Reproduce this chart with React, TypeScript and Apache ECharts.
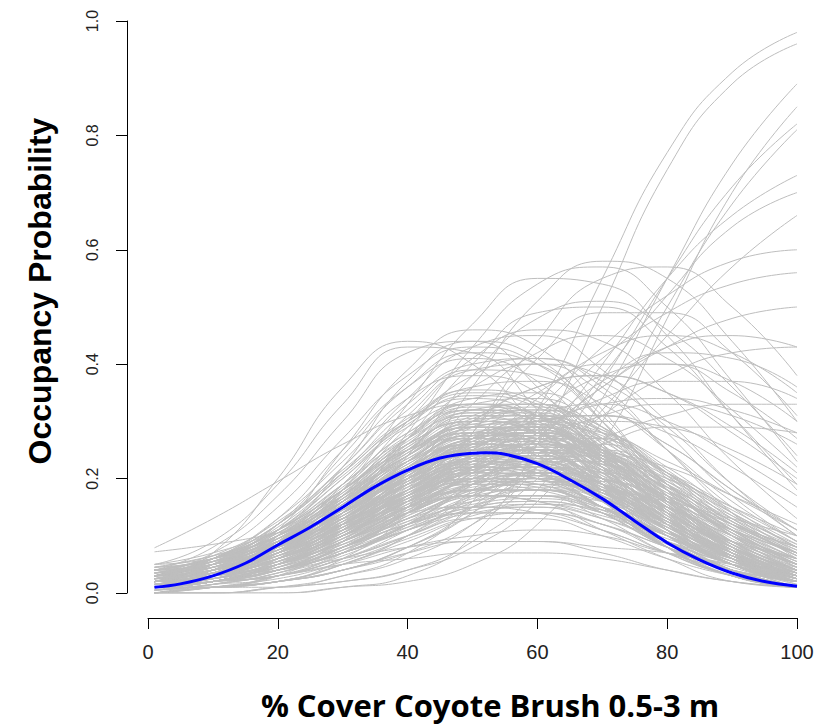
import React, { useEffect, useRef } from "react";
import * as echarts from "echarts";

// Cover values at which every posterior draw is evaluated
const xCover = [1, 10, 20, 30, 40, 50, 60, 70, 80, 90, 100];

// Posterior draws of occupancy probability (one row per draw, values at xCover)
const posteriorCurves: number[][] = [
  [0.02, 0.04, 0.08, 0.14, 0.2, 0.23, 0.22, 0.17, 0.1, 0.05, 0.02],
  [0.01, 0.02, 0.05, 0.1, 0.17, 0.22, 0.23, 0.19, 0.12, 0.06, 0.03],
  [0.03, 0.05, 0.09, 0.15, 0.22, 0.26, 0.25, 0.19, 0.11, 0.05, 0.02],
  [0.02, 0.03, 0.06, 0.1, 0.15, 0.18, 0.18, 0.15, 0.1, 0.06, 0.03],
  [0.04, 0.06, 0.1, 0.16, 0.22, 0.27, 0.28, 0.25, 0.19, 0.12, 0.07],
  [0.01, 0.02, 0.04, 0.08, 0.13, 0.17, 0.17, 0.13, 0.07, 0.03, 0.01],
  [0.02, 0.04, 0.08, 0.13, 0.19, 0.22, 0.2, 0.15, 0.08, 0.04, 0.01],
  [0.03, 0.05, 0.1, 0.18, 0.26, 0.3, 0.28, 0.21, 0.12, 0.05, 0.02],
  [0.01, 0.03, 0.06, 0.12, 0.2, 0.27, 0.29, 0.25, 0.17, 0.09, 0.04],
  [0.02, 0.03, 0.05, 0.09, 0.13, 0.16, 0.17, 0.16, 0.13, 0.09, 0.06],
  [0.04, 0.05, 0.08, 0.12, 0.15, 0.17, 0.16, 0.13, 0.09, 0.06, 0.03],
  [0.02, 0.04, 0.09, 0.17, 0.26, 0.32, 0.31, 0.24, 0.14, 0.06, 0.02],
  [0.01, 0.02, 0.05, 0.11, 0.19, 0.25, 0.25, 0.19, 0.1, 0.04, 0.01],
  [0.03, 0.04, 0.07, 0.11, 0.16, 0.2, 0.22, 0.21, 0.17, 0.12, 0.08],
  [0.02, 0.04, 0.07, 0.12, 0.17, 0.2, 0.19, 0.15, 0.09, 0.05, 0.02],
  [0.05, 0.07, 0.11, 0.17, 0.23, 0.26, 0.24, 0.18, 0.11, 0.05, 0.02],
  [0.01, 0.02, 0.04, 0.07, 0.11, 0.14, 0.15, 0.13, 0.09, 0.05, 0.02],
  [0.03, 0.06, 0.12, 0.21, 0.3, 0.34, 0.31, 0.22, 0.12, 0.05, 0.02],
  [0.02, 0.03, 0.06, 0.1, 0.15, 0.19, 0.21, 0.2, 0.16, 0.11, 0.07],
  [0.01, 0.02, 0.03, 0.06, 0.1, 0.13, 0.13, 0.1, 0.06, 0.03, 0.01],
  [0.02, 0.04, 0.08, 0.15, 0.23, 0.28, 0.27, 0.2, 0.11, 0.05, 0.01],
  [0.04, 0.06, 0.09, 0.14, 0.19, 0.22, 0.22, 0.19, 0.14, 0.09, 0.05],
  [0.01, 0.03, 0.07, 0.13, 0.21, 0.25, 0.23, 0.16, 0.08, 0.03, 0.01],
  [0.03, 0.05, 0.08, 0.13, 0.18, 0.22, 0.23, 0.21, 0.17, 0.12, 0.08],
  [0.02, 0.03, 0.05, 0.08, 0.12, 0.15, 0.16, 0.14, 0.1, 0.06, 0.03],
  [0.01, 0.02, 0.05, 0.1, 0.17, 0.23, 0.26, 0.24, 0.18, 0.11, 0.05],
  [0.03, 0.05, 0.1, 0.17, 0.25, 0.29, 0.26, 0.18, 0.09, 0.04, 0.01],
  [0.02, 0.03, 0.06, 0.11, 0.17, 0.21, 0.21, 0.17, 0.11, 0.05, 0.02],
  [0.05, 0.06, 0.09, 0.12, 0.15, 0.17, 0.17, 0.15, 0.12, 0.09, 0.06],
  [0.01, 0.01, 0.03, 0.06, 0.11, 0.17, 0.21, 0.21, 0.17, 0.11, 0.06],
  [0.02, 0.04, 0.09, 0.16, 0.24, 0.3, 0.31, 0.27, 0.19, 0.11, 0.05],
  [0.03, 0.04, 0.07, 0.11, 0.16, 0.19, 0.18, 0.14, 0.08, 0.04, 0.01],
  [0.01, 0.02, 0.04, 0.09, 0.15, 0.2, 0.2, 0.15, 0.08, 0.03, 0.01],
  [0.02, 0.05, 0.11, 0.2, 0.29, 0.33, 0.29, 0.19, 0.09, 0.03, 0.01],
  [0.04, 0.05, 0.08, 0.11, 0.14, 0.15, 0.14, 0.11, 0.07, 0.04, 0.02],
  [0.02, 0.03, 0.05, 0.09, 0.14, 0.19, 0.23, 0.24, 0.22, 0.17, 0.12],
  [0.01, 0.02, 0.05, 0.09, 0.14, 0.17, 0.16, 0.11, 0.06, 0.02, 0.01],
  [0.03, 0.06, 0.11, 0.18, 0.25, 0.27, 0.24, 0.16, 0.08, 0.03, 0.01],
  [0.02, 0.03, 0.06, 0.1, 0.16, 0.22, 0.25, 0.25, 0.21, 0.15, 0.09],
  [0.01, 0.03, 0.07, 0.15, 0.25, 0.32, 0.33, 0.27, 0.17, 0.08, 0.03],
  [0.01, 0.02, 0.03, 0.05, 0.06, 0.07, 0.07, 0.06, 0.04, 0.02, 0.01],
  [0.0, 0.01, 0.02, 0.04, 0.07, 0.09, 0.09, 0.07, 0.04, 0.02, 0.01],
  [0.02, 0.03, 0.04, 0.06, 0.08, 0.09, 0.09, 0.08, 0.07, 0.05, 0.04],
  [0.01, 0.01, 0.03, 0.05, 0.08, 0.1, 0.11, 0.1, 0.07, 0.05, 0.02],
  [0.0, 0.01, 0.02, 0.05, 0.09, 0.13, 0.14, 0.12, 0.07, 0.03, 0.01],
  [0.03, 0.07, 0.15, 0.27, 0.38, 0.43, 0.4, 0.3, 0.17, 0.08, 0.03],
  [0.02, 0.05, 0.12, 0.24, 0.36, 0.42, 0.4, 0.31, 0.19, 0.1, 0.04],
  [0.01, 0.03, 0.1, 0.22, 0.37, 0.44, 0.41, 0.3, 0.16, 0.06, 0.02],
  [0.04, 0.08, 0.17, 0.3, 0.42, 0.44, 0.36, 0.23, 0.11, 0.04, 0.01],
  [0.02, 0.04, 0.09, 0.19, 0.31, 0.39, 0.4, 0.35, 0.25, 0.15, 0.08],
  [0.03, 0.06, 0.13, 0.23, 0.34, 0.38, 0.35, 0.25, 0.14, 0.06, 0.02],
  [0.01, 0.04, 0.11, 0.25, 0.39, 0.46, 0.43, 0.32, 0.18, 0.07, 0.02],
  [0.02, 0.05, 0.12, 0.22, 0.33, 0.4, 0.41, 0.37, 0.29, 0.19, 0.11],
  [0.05, 0.09, 0.19, 0.33, 0.43, 0.42, 0.32, 0.19, 0.08, 0.03, 0.01],
  [0.03, 0.05, 0.11, 0.2, 0.3, 0.36, 0.37, 0.33, 0.25, 0.16, 0.09],
  [0.02, 0.04, 0.08, 0.16, 0.27, 0.36, 0.4, 0.38, 0.3, 0.19, 0.1],
  [0.079, 0.13, 0.195, 0.26, 0.31, 0.33, 0.31, 0.25, 0.17, 0.1, 0.05],
  [0.072, 0.085, 0.105, 0.13, 0.16, 0.18, 0.19, 0.18, 0.16, 0.13, 0.1],
  [0.02, 0.07, 0.2, 0.36, 0.44, 0.4, 0.29, 0.17, 0.08, 0.03, 0.01],
  [0.01, 0.02, 0.06, 0.14, 0.28, 0.43, 0.54, 0.57, 0.5, 0.37, 0.23],
  [0.0, 0.01, 0.03, 0.09, 0.2, 0.36, 0.51, 0.58, 0.55, 0.44, 0.3],
  [0.01, 0.03, 0.08, 0.18, 0.33, 0.47, 0.55, 0.54, 0.45, 0.31, 0.18],
  [0.0, 0.01, 0.02, 0.06, 0.14, 0.28, 0.44, 0.55, 0.57, 0.5, 0.38],
  [0.01, 0.02, 0.05, 0.12, 0.24, 0.38, 0.48, 0.51, 0.46, 0.36, 0.24],
  [0.02, 0.03, 0.07, 0.15, 0.27, 0.4, 0.49, 0.5, 0.43, 0.31, 0.19],
  [0.0, 0.01, 0.03, 0.07, 0.15, 0.28, 0.41, 0.49, 0.49, 0.42, 0.31],
  [0.0, 0.0, 0.01, 0.03, 0.07, 0.16, 0.32, 0.55, 0.77, 0.91, 0.98],
  [0.0, 0.0, 0.0, 0.01, 0.03, 0.1, 0.26, 0.5, 0.74, 0.89, 0.96],
  [0.0, 0.0, 0.01, 0.02, 0.04, 0.09, 0.18, 0.34, 0.55, 0.75, 0.89],
  [0.0, 0.0, 0.0, 0.01, 0.02, 0.05, 0.12, 0.26, 0.48, 0.7, 0.85],
  [0.0, 0.01, 0.01, 0.03, 0.06, 0.12, 0.22, 0.37, 0.55, 0.71, 0.82],
  [0.0, 0.0, 0.01, 0.02, 0.04, 0.08, 0.16, 0.3, 0.5, 0.68, 0.81],
  [0.01, 0.01, 0.02, 0.04, 0.08, 0.15, 0.26, 0.4, 0.55, 0.66, 0.73],
  [0.0, 0.01, 0.02, 0.04, 0.08, 0.14, 0.24, 0.38, 0.52, 0.64, 0.7],
  [0.01, 0.01, 0.02, 0.04, 0.07, 0.12, 0.2, 0.32, 0.45, 0.57, 0.66],
  [0.01, 0.02, 0.04, 0.08, 0.14, 0.22, 0.32, 0.43, 0.52, 0.58, 0.6],
  [0.01, 0.02, 0.03, 0.07, 0.12, 0.2, 0.3, 0.41, 0.49, 0.54, 0.56],
  [0.01, 0.02, 0.04, 0.07, 0.12, 0.19, 0.27, 0.36, 0.43, 0.48, 0.5],
  [0.01, 0.02, 0.04, 0.08, 0.14, 0.22, 0.31, 0.38, 0.4, 0.37, 0.3],
  [0.02, 0.03, 0.05, 0.09, 0.14, 0.21, 0.28, 0.34, 0.37, 0.37, 0.34],
  [0.0, 0.01, 0.02, 0.05, 0.1, 0.17, 0.27, 0.36, 0.43, 0.45, 0.43],
  [0.01, 0.02, 0.04, 0.08, 0.15, 0.24, 0.34, 0.42, 0.45, 0.42, 0.35],
  [0.01, 0.02, 0.04, 0.07, 0.11, 0.16, 0.22, 0.27, 0.31, 0.33, 0.33],
  [0.0, 0.01, 0.02, 0.04, 0.08, 0.14, 0.22, 0.31, 0.38, 0.42, 0.43],
  [0.02, 0.03, 0.06, 0.11, 0.18, 0.27, 0.35, 0.4, 0.4, 0.35, 0.27],
  [0.01, 0.02, 0.03, 0.06, 0.1, 0.15, 0.21, 0.26, 0.29, 0.29, 0.28],
  [0.02, 0.04, 0.08, 0.14, 0.22, 0.3, 0.36, 0.38, 0.35, 0.29, 0.21],
  [0.01, 0.02, 0.04, 0.07, 0.12, 0.19, 0.26, 0.31, 0.33, 0.31, 0.26],
  [0.01, 0.03, 0.07, 0.13, 0.2, 0.25, 0.26, 0.22, 0.15, 0.08, 0.03],
  [0.02, 0.03, 0.06, 0.12, 0.19, 0.24, 0.24, 0.19, 0.12, 0.06, 0.02],
  [0.03, 0.05, 0.09, 0.15, 0.21, 0.24, 0.23, 0.18, 0.12, 0.07, 0.03],
  [0.01, 0.02, 0.05, 0.1, 0.16, 0.21, 0.22, 0.18, 0.12, 0.06, 0.02],
  [0.02, 0.04, 0.08, 0.14, 0.22, 0.28, 0.29, 0.24, 0.16, 0.08, 0.03],
  [0.04, 0.06, 0.1, 0.15, 0.2, 0.23, 0.21, 0.16, 0.09, 0.04, 0.01],
  [0.01, 0.02, 0.05, 0.09, 0.15, 0.19, 0.19, 0.15, 0.09, 0.04, 0.01],
  [0.02, 0.04, 0.08, 0.15, 0.23, 0.29, 0.3, 0.25, 0.17, 0.09, 0.04],
  [0.03, 0.04, 0.07, 0.12, 0.18, 0.23, 0.25, 0.23, 0.18, 0.12, 0.07],
  [0.01, 0.03, 0.06, 0.12, 0.19, 0.23, 0.21, 0.15, 0.08, 0.03, 0.01],
  [0.02, 0.03, 0.06, 0.11, 0.18, 0.24, 0.26, 0.23, 0.16, 0.09, 0.04],
  [0.03, 0.05, 0.09, 0.16, 0.24, 0.28, 0.27, 0.21, 0.13, 0.06, 0.02],
  [0.01, 0.02, 0.04, 0.08, 0.13, 0.18, 0.2, 0.18, 0.13, 0.08, 0.04],
  [0.02, 0.04, 0.07, 0.13, 0.2, 0.26, 0.27, 0.23, 0.15, 0.08, 0.03],
  [0.04, 0.06, 0.1, 0.17, 0.25, 0.31, 0.31, 0.25, 0.16, 0.08, 0.03],
  [0.01, 0.02, 0.04, 0.08, 0.14, 0.21, 0.25, 0.24, 0.18, 0.11, 0.05],
  [0.02, 0.03, 0.06, 0.1, 0.16, 0.2, 0.21, 0.18, 0.12, 0.07, 0.03],
  [0.03, 0.05, 0.1, 0.18, 0.27, 0.33, 0.33, 0.26, 0.16, 0.07, 0.02],
  [0.01, 0.02, 0.05, 0.09, 0.14, 0.18, 0.18, 0.14, 0.08, 0.04, 0.01],
  [0.02, 0.04, 0.09, 0.17, 0.27, 0.34, 0.35, 0.29, 0.19, 0.1, 0.04],
  [0.03, 0.05, 0.08, 0.13, 0.19, 0.24, 0.26, 0.25, 0.2, 0.14, 0.08],
  [0.01, 0.02, 0.04, 0.07, 0.12, 0.16, 0.18, 0.16, 0.11, 0.06, 0.03],
  [0.02, 0.04, 0.08, 0.14, 0.21, 0.26, 0.25, 0.19, 0.11, 0.05, 0.02],
  [0.04, 0.05, 0.08, 0.12, 0.17, 0.21, 0.22, 0.2, 0.15, 0.1, 0.06],
  [0.01, 0.03, 0.06, 0.11, 0.18, 0.23, 0.24, 0.2, 0.13, 0.07, 0.03],
  [0.02, 0.03, 0.05, 0.1, 0.17, 0.24, 0.28, 0.27, 0.21, 0.13, 0.07],
  [0.03, 0.06, 0.12, 0.21, 0.3, 0.35, 0.33, 0.25, 0.14, 0.06, 0.02],
  [0.01, 0.02, 0.04, 0.07, 0.11, 0.15, 0.16, 0.14, 0.1, 0.05, 0.02],
  [0.02, 0.05, 0.1, 0.18, 0.26, 0.3, 0.28, 0.2, 0.11, 0.05, 0.01],
  [0.03, 0.04, 0.07, 0.11, 0.16, 0.2, 0.2, 0.17, 0.12, 0.07, 0.04],
  [0.01, 0.03, 0.07, 0.14, 0.23, 0.3, 0.32, 0.28, 0.19, 0.1, 0.04],
  [0.02, 0.03, 0.05, 0.08, 0.12, 0.14, 0.14, 0.11, 0.07, 0.04, 0.02],
  [0.03, 0.05, 0.09, 0.16, 0.23, 0.27, 0.25, 0.18, 0.1, 0.04, 0.01],
  [0.01, 0.02, 0.05, 0.1, 0.17, 0.24, 0.27, 0.25, 0.18, 0.1, 0.05],
  [0.02, 0.04, 0.07, 0.12, 0.17, 0.2, 0.19, 0.14, 0.08, 0.04, 0.01],
  [0.04, 0.06, 0.11, 0.19, 0.28, 0.32, 0.3, 0.22, 0.13, 0.06, 0.02],
  [0.01, 0.02, 0.04, 0.09, 0.16, 0.24, 0.3, 0.31, 0.26, 0.18, 0.1],
  [0.02, 0.04, 0.08, 0.14, 0.21, 0.25, 0.23, 0.16, 0.09, 0.04, 0.01],
  [0.03, 0.04, 0.06, 0.1, 0.14, 0.18, 0.19, 0.18, 0.15, 0.11, 0.07],
  [0.01, 0.03, 0.07, 0.13, 0.21, 0.27, 0.28, 0.23, 0.14, 0.07, 0.02],
  [0.02, 0.04, 0.09, 0.18, 0.3, 0.41, 0.46, 0.44, 0.35, 0.23, 0.13],
  [0.01, 0.02, 0.05, 0.11, 0.21, 0.33, 0.42, 0.45, 0.41, 0.32, 0.22],
  [0.03, 0.06, 0.12, 0.22, 0.34, 0.43, 0.45, 0.39, 0.28, 0.17, 0.09],
  [0.01, 0.03, 0.06, 0.12, 0.21, 0.3, 0.36, 0.38, 0.35, 0.28, 0.2],
  [0.0, 0.01, 0.02, 0.05, 0.1, 0.18, 0.28, 0.37, 0.42, 0.41, 0.36],
  [0.02, 0.03, 0.06, 0.1, 0.16, 0.23, 0.29, 0.33, 0.34, 0.32, 0.28],
  [0.02, 0.04, 0.08, 0.14, 0.21, 0.27, 0.28, 0.24, 0.16, 0.09, 0.04],
  [0.01, 0.02, 0.05, 0.09, 0.15, 0.2, 0.22, 0.2, 0.15, 0.09, 0.05],
  [0.03, 0.05, 0.09, 0.16, 0.24, 0.29, 0.29, 0.23, 0.15, 0.08, 0.03],
  [0.02, 0.03, 0.06, 0.11, 0.18, 0.23, 0.23, 0.18, 0.11, 0.05, 0.02],
  [0.01, 0.02, 0.04, 0.08, 0.13, 0.18, 0.21, 0.2, 0.16, 0.11, 0.06],
  [0.03, 0.05, 0.08, 0.14, 0.2, 0.24, 0.24, 0.2, 0.13, 0.07, 0.03],
  [0.02, 0.04, 0.09, 0.17, 0.25, 0.3, 0.29, 0.22, 0.13, 0.06, 0.02],
  [0.01, 0.02, 0.04, 0.08, 0.13, 0.17, 0.18, 0.15, 0.1, 0.05, 0.02],
  [0.04, 0.06, 0.1, 0.16, 0.23, 0.27, 0.26, 0.21, 0.14, 0.08, 0.04],
  [0.02, 0.03, 0.07, 0.12, 0.2, 0.26, 0.28, 0.25, 0.18, 0.1, 0.05],
  [0.01, 0.03, 0.06, 0.12, 0.19, 0.24, 0.24, 0.19, 0.11, 0.05, 0.02],
  [0.03, 0.04, 0.07, 0.12, 0.18, 0.22, 0.21, 0.16, 0.1, 0.05, 0.02],
  [0.02, 0.04, 0.08, 0.15, 0.24, 0.31, 0.33, 0.29, 0.21, 0.12, 0.06],
  [0.01, 0.02, 0.04, 0.09, 0.15, 0.22, 0.26, 0.26, 0.21, 0.14, 0.08],
  [0.03, 0.05, 0.1, 0.18, 0.27, 0.32, 0.3, 0.22, 0.12, 0.05, 0.02],
  [0.02, 0.03, 0.05, 0.09, 0.14, 0.17, 0.17, 0.14, 0.09, 0.05, 0.02],
  [0.01, 0.02, 0.05, 0.11, 0.19, 0.26, 0.28, 0.24, 0.16, 0.08, 0.03],
  [0.04, 0.05, 0.08, 0.13, 0.19, 0.24, 0.26, 0.24, 0.19, 0.13, 0.08],
  [0.02, 0.04, 0.07, 0.13, 0.19, 0.22, 0.21, 0.16, 0.1, 0.05, 0.02],
  [0.01, 0.03, 0.07, 0.14, 0.22, 0.28, 0.29, 0.24, 0.15, 0.07, 0.03],
  [0.03, 0.05, 0.09, 0.15, 0.22, 0.27, 0.28, 0.25, 0.19, 0.12, 0.07],
  [0.02, 0.03, 0.06, 0.1, 0.15, 0.18, 0.18, 0.15, 0.1, 0.06, 0.03],
  [0.01, 0.02, 0.05, 0.1, 0.18, 0.25, 0.29, 0.28, 0.22, 0.14, 0.07],
  [0.03, 0.06, 0.11, 0.19, 0.27, 0.31, 0.28, 0.2, 0.11, 0.05, 0.02],
  [0.02, 0.04, 0.08, 0.14, 0.2, 0.24, 0.23, 0.18, 0.11, 0.06, 0.02],
  [0.01, 0.02, 0.03, 0.06, 0.1, 0.15, 0.18, 0.18, 0.15, 0.1, 0.06],
  [0.04, 0.06, 0.1, 0.17, 0.24, 0.29, 0.29, 0.24, 0.16, 0.09, 0.04],
  [0.02, 0.03, 0.06, 0.11, 0.17, 0.21, 0.2, 0.15, 0.09, 0.04, 0.01],
  [0.01, 0.03, 0.06, 0.12, 0.2, 0.27, 0.3, 0.27, 0.19, 0.11, 0.05],
  [0.03, 0.05, 0.09, 0.14, 0.2, 0.23, 0.22, 0.17, 0.11, 0.06, 0.03],
  [0.02, 0.04, 0.09, 0.16, 0.25, 0.31, 0.31, 0.25, 0.16, 0.08, 0.03],
  [0.01, 0.02, 0.04, 0.07, 0.12, 0.17, 0.2, 0.19, 0.15, 0.1, 0.05],
  [0.03, 0.05, 0.08, 0.14, 0.21, 0.26, 0.27, 0.23, 0.16, 0.09, 0.04],
  [0.02, 0.04, 0.07, 0.12, 0.18, 0.21, 0.2, 0.15, 0.08, 0.04, 0.01],
  [0.01, 0.02, 0.05, 0.1, 0.16, 0.22, 0.24, 0.22, 0.16, 0.09, 0.04],
  [0.04, 0.06, 0.11, 0.18, 0.26, 0.3, 0.28, 0.2, 0.12, 0.05, 0.02],
  [0.02, 0.03, 0.06, 0.12, 0.2, 0.27, 0.3, 0.28, 0.21, 0.13, 0.07],
  [0.01, 0.02, 0.04, 0.08, 0.12, 0.15, 0.15, 0.12, 0.08, 0.04, 0.02],
  [0.03, 0.05, 0.09, 0.16, 0.24, 0.29, 0.28, 0.22, 0.13, 0.06, 0.02],
  [0.02, 0.04, 0.07, 0.13, 0.2, 0.25, 0.26, 0.22, 0.15, 0.08, 0.04],
  [0.01, 0.03, 0.06, 0.11, 0.17, 0.22, 0.23, 0.19, 0.13, 0.07, 0.03],
  [0.03, 0.04, 0.07, 0.12, 0.18, 0.24, 0.27, 0.27, 0.23, 0.17, 0.11],
  [0.02, 0.05, 0.1, 0.19, 0.28, 0.33, 0.31, 0.23, 0.13, 0.06, 0.02],
  [0.01, 0.02, 0.05, 0.09, 0.15, 0.19, 0.2, 0.16, 0.1, 0.05, 0.02],
  [0.03, 0.05, 0.08, 0.13, 0.19, 0.23, 0.23, 0.19, 0.13, 0.07, 0.03],
  [0.02, 0.03, 0.06, 0.12, 0.21, 0.29, 0.32, 0.29, 0.2, 0.11, 0.05],
  [0.01, 0.02, 0.04, 0.07, 0.11, 0.14, 0.14, 0.12, 0.08, 0.04, 0.02],
  [0.04, 0.06, 0.09, 0.15, 0.21, 0.25, 0.25, 0.21, 0.14, 0.08, 0.04],
  [0.02, 0.04, 0.08, 0.15, 0.23, 0.28, 0.27, 0.21, 0.12, 0.05, 0.02],
  [0.01, 0.02, 0.05, 0.1, 0.17, 0.23, 0.25, 0.21, 0.14, 0.07, 0.03],
  [0.03, 0.06, 0.11, 0.18, 0.25, 0.28, 0.26, 0.19, 0.11, 0.05, 0.02],
  [0.02, 0.03, 0.05, 0.09, 0.15, 0.2, 0.23, 0.23, 0.2, 0.15, 0.1],
  [0.01, 0.03, 0.07, 0.13, 0.21, 0.26, 0.26, 0.2, 0.12, 0.05, 0.02],
  [0.03, 0.04, 0.07, 0.11, 0.17, 0.21, 0.22, 0.19, 0.14, 0.08, 0.04],
  [0.02, 0.04, 0.08, 0.16, 0.26, 0.33, 0.34, 0.28, 0.18, 0.09, 0.03],
  [0.01, 0.02, 0.04, 0.08, 0.14, 0.19, 0.21, 0.19, 0.14, 0.08, 0.04],
  [0.04, 0.06, 0.1, 0.16, 0.22, 0.26, 0.25, 0.19, 0.12, 0.06, 0.02],
  [0.02, 0.03, 0.06, 0.1, 0.16, 0.21, 0.22, 0.19, 0.13, 0.07, 0.03],
  [0.01, 0.03, 0.07, 0.14, 0.23, 0.29, 0.3, 0.25, 0.16, 0.08, 0.03],
  [0.03, 0.05, 0.09, 0.15, 0.22, 0.26, 0.25, 0.2, 0.13, 0.07, 0.03],
  [0.01, 0.02, 0.05, 0.1, 0.17, 0.25, 0.31, 0.33, 0.3, 0.24, 0.17],
  [0.02, 0.03, 0.06, 0.11, 0.18, 0.25, 0.3, 0.31, 0.28, 0.22, 0.15],
  [0.01, 0.02, 0.04, 0.08, 0.14, 0.21, 0.27, 0.3, 0.29, 0.25, 0.19],
  [0.02, 0.04, 0.07, 0.12, 0.19, 0.26, 0.31, 0.31, 0.26, 0.18, 0.11],
  [0.02, 0.05, 0.11, 0.21, 0.32, 0.39, 0.38, 0.3, 0.18, 0.08, 0.03],
  [0.03, 0.06, 0.13, 0.25, 0.36, 0.41, 0.37, 0.26, 0.14, 0.06, 0.02],
  [0.01, 0.03, 0.08, 0.17, 0.29, 0.38, 0.41, 0.36, 0.25, 0.14, 0.06],
  [0.015, 0.035, 0.075, 0.135, 0.205, 0.255, 0.265, 0.225, 0.155, 0.085, 0.035],
  [0.025, 0.045, 0.085, 0.145, 0.215, 0.265, 0.265, 0.215, 0.135, 0.065, 0.025],
  [0.015, 0.025, 0.055, 0.105, 0.175, 0.235, 0.255, 0.235, 0.175, 0.105, 0.055],
  [0.035, 0.055, 0.095, 0.155, 0.225, 0.275, 0.275, 0.225, 0.145, 0.075, 0.025],
  [0.005, 0.015, 0.035, 0.075, 0.135, 0.195, 0.225, 0.215, 0.165, 0.105, 0.055],
  [0.025, 0.035, 0.065, 0.115, 0.175, 0.215, 0.215, 0.175, 0.115, 0.065, 0.025],
  [0.015, 0.035, 0.085, 0.165, 0.255, 0.315, 0.315, 0.255, 0.165, 0.085, 0.035],
  [0.045, 0.065, 0.095, 0.145, 0.195, 0.225, 0.215, 0.175, 0.115, 0.065, 0.035],
  [0.025, 0.045, 0.075, 0.125, 0.185, 0.235, 0.255, 0.245, 0.195, 0.135, 0.085],
  [0.015, 0.025, 0.045, 0.085, 0.145, 0.205, 0.235, 0.225, 0.175, 0.105, 0.045],
  [0.035, 0.045, 0.075, 0.125, 0.195, 0.255, 0.275, 0.255, 0.195, 0.125, 0.065],
  [0.005, 0.015, 0.035, 0.065, 0.115, 0.165, 0.185, 0.165, 0.115, 0.065, 0.025],
  [0.025, 0.055, 0.105, 0.185, 0.275, 0.325, 0.315, 0.245, 0.145, 0.065, 0.025],
  [0.015, 0.035, 0.065, 0.115, 0.165, 0.195, 0.185, 0.145, 0.085, 0.045, 0.015],
  [0.035, 0.055, 0.085, 0.135, 0.185, 0.215, 0.205, 0.165, 0.105, 0.055, 0.025],
  [0.025, 0.035, 0.055, 0.095, 0.155, 0.215, 0.245, 0.245, 0.205, 0.145, 0.085],
  [0.015, 0.025, 0.065, 0.125, 0.205, 0.265, 0.285, 0.245, 0.165, 0.085, 0.035],
  [0.045, 0.055, 0.085, 0.125, 0.175, 0.205, 0.205, 0.175, 0.125, 0.075, 0.045],
  [0.005, 0.015, 0.045, 0.095, 0.165, 0.225, 0.245, 0.215, 0.145, 0.075, 0.025],
  [0.025, 0.045, 0.095, 0.165, 0.245, 0.295, 0.295, 0.235, 0.155, 0.075, 0.025],
  [0.015, 0.025, 0.045, 0.075, 0.115, 0.145, 0.155, 0.135, 0.095, 0.055, 0.025],
  [0.035, 0.055, 0.105, 0.175, 0.255, 0.305, 0.295, 0.235, 0.145, 0.075, 0.025],
  [0.025, 0.035, 0.065, 0.105, 0.165, 0.215, 0.235, 0.225, 0.185, 0.125, 0.075],
  [0.015, 0.035, 0.075, 0.145, 0.225, 0.275, 0.275, 0.215, 0.135, 0.065, 0.025],
  [0.005, 0.015, 0.025, 0.055, 0.095, 0.135, 0.155, 0.145, 0.105, 0.065, 0.035],
  [0.025, 0.045, 0.085, 0.155, 0.235, 0.285, 0.285, 0.235, 0.165, 0.095, 0.045],
  [0.035, 0.045, 0.065, 0.105, 0.155, 0.195, 0.205, 0.185, 0.135, 0.085, 0.045],
  [0.015, 0.025, 0.055, 0.115, 0.195, 0.265, 0.295, 0.275, 0.205, 0.125, 0.065],
  [0.025, 0.045, 0.095, 0.175, 0.265, 0.315, 0.305, 0.235, 0.135, 0.065, 0.025],
  [0.015, 0.035, 0.065, 0.115, 0.175, 0.225, 0.235, 0.205, 0.145, 0.085, 0.035],
  [0.045, 0.065, 0.105, 0.165, 0.235, 0.275, 0.265, 0.205, 0.125, 0.065, 0.025],
  [0.005, 0.015, 0.035, 0.075, 0.125, 0.175, 0.195, 0.175, 0.125, 0.075, 0.035],
  [0.025, 0.035, 0.065, 0.125, 0.205, 0.275, 0.305, 0.285, 0.215, 0.135, 0.075],
  [0.015, 0.035, 0.075, 0.135, 0.195, 0.235, 0.225, 0.175, 0.105, 0.055, 0.015],
  [0.035, 0.055, 0.095, 0.165, 0.245, 0.295, 0.305, 0.265, 0.185, 0.105, 0.045],
  [0.025, 0.035, 0.055, 0.095, 0.145, 0.185, 0.195, 0.175, 0.125, 0.075, 0.035],
  [0.015, 0.025, 0.055, 0.105, 0.185, 0.255, 0.275, 0.245, 0.165, 0.085, 0.035],
  [0.025, 0.045, 0.085, 0.145, 0.215, 0.255, 0.245, 0.195, 0.125, 0.065, 0.025],
  [0.005, 0.025, 0.055, 0.105, 0.165, 0.215, 0.225, 0.185, 0.125, 0.065, 0.025],
  [0.035, 0.055, 0.115, 0.205, 0.295, 0.345, 0.325, 0.245, 0.145, 0.065, 0.025],
  [0.015, 0.025, 0.045, 0.085, 0.135, 0.175, 0.195, 0.195, 0.165, 0.115, 0.065],
  [0.025, 0.035, 0.075, 0.135, 0.215, 0.275, 0.285, 0.235, 0.155, 0.075, 0.025],
  [0.045, 0.055, 0.075, 0.115, 0.165, 0.195, 0.195, 0.165, 0.115, 0.065, 0.035],
  [0.015, 0.035, 0.085, 0.155, 0.245, 0.305, 0.325, 0.285, 0.205, 0.115, 0.055],
  [0.025, 0.035, 0.055, 0.085, 0.125, 0.155, 0.165, 0.145, 0.105, 0.065, 0.035],
  [0.035, 0.065, 0.125, 0.215, 0.305, 0.355, 0.335, 0.255, 0.155, 0.075, 0.025],
  [0.015, 0.025, 0.045, 0.095, 0.155, 0.215, 0.245, 0.235, 0.185, 0.125, 0.065],
  [0.025, 0.045, 0.075, 0.135, 0.205, 0.245, 0.235, 0.185, 0.115, 0.055, 0.025],
];

// Posterior mean occupancy curve
const meanCover = [1, 5, 10, 15, 20, 25, 30, 35, 40, 45, 50, 52, 55, 60, 65, 70, 75, 80, 85, 90, 95, 100];
const meanOccupancy = [
  0.01, 0.016, 0.03, 0.052, 0.084, 0.115, 0.15, 0.186, 0.215, 0.236, 0.2445, 0.245, 0.2425, 0.226,
  0.198, 0.165, 0.126, 0.088, 0.058, 0.035, 0.02, 0.012,
];

const yTickLabels = ["0.0", "0.2", "0.4", "0.6", "0.8", "1.0"];

const xTitle = "% Cover Coyote Brush 0.5-3 m";
const yTitle = "Occupancy Probability";

export default function App() {
  const ref = useRef<HTMLDivElement>(null);

  useEffect(() => {
    document.body.style.margin = "0";
    const chart = echarts.init(ref.current as HTMLDivElement, null, { renderer: "svg" });

    const drawSeries = posteriorCurves.map((curve, i) => ({
      name: "draw" + i,
      type: "line",
      data: curve.map((v, j) => [xCover[j], v]),
      smooth: 0.5,
      showSymbol: false,
      symbol: "none",
      silent: true,
      lineStyle: { color: "#bebebe", width: 1 },
      z: 2,
    }));

    const meanSeries = {
      name: "mean",
      type: "line",
      data: meanOccupancy.map((v, j) => [meanCover[j], v]),
      smooth: 0.4,
      showSymbol: false,
      symbol: "none",
      silent: true,
      lineStyle: { color: "#0000ff", width: 3 },
      z: 5,
    };

    const axisFont = "Arial";

    chart.setOption({
      animation: false,
      backgroundColor: "#ffffff",
      grid: { left: 148, right: 39, top: 21, bottom: 134, containLabel: false },
      xAxis: {
        type: "value",
        min: 0,
        max: 100,
        interval: 20,
        offset: 25,
        axisLine: { show: true, onZero: false, lineStyle: { color: "#000", width: 1 } },
        axisTick: { show: true, length: 11, lineStyle: { color: "#000", width: 1 } },
        axisLabel: {
          fontFamily: axisFont,
          fontSize: 20,
          color: "#222",
          margin: 24,
          showMinLabel: true,
          showMaxLabel: true,
        },
        splitLine: { show: false },
      },
      yAxis: {
        type: "value",
        min: 0,
        max: 1,
        interval: 0.2,
        offset: 21,
        axisLine: { show: true, onZero: false, lineStyle: { color: "#000", width: 1 } },
        axisTick: { show: true, length: 11, lineStyle: { color: "#000", width: 1 } },
        axisLabel: {
          fontFamily: axisFont,
          fontSize: 16,
          color: "#222",
          rotate: 90,
          margin: 27,
          showMinLabel: true,
          showMaxLabel: true,
          formatter: (v: number) => yTickLabels[Math.round(v / 0.2)],
        },
        splitLine: { show: false },
      },
      graphic: [
        {
          type: "text",
          x: 490,
          y: 705,
          style: {
            text: xTitle,
            fontFamily: "Open Sans",
            fontWeight: "bold",
            fontSize: 31,
            fill: "#000",
            align: "center",
            verticalAlign: "middle",
          },
        },
        {
          type: "text",
          x: 40,
          y: 291,
          rotation: Math.PI / 2,
          style: {
            text: yTitle,
            fontFamily: "Arial",
            fontWeight: "bold",
            fontSize: 32,
            fill: "#000",
            align: "center",
            verticalAlign: "middle",
          },
        },
      ],
      series: [...drawSeries, meanSeries],
    });

    return () => chart.dispose();
  }, []);

  return <div ref={ref} style={{ width: 836, height: 727 }} />;
}
